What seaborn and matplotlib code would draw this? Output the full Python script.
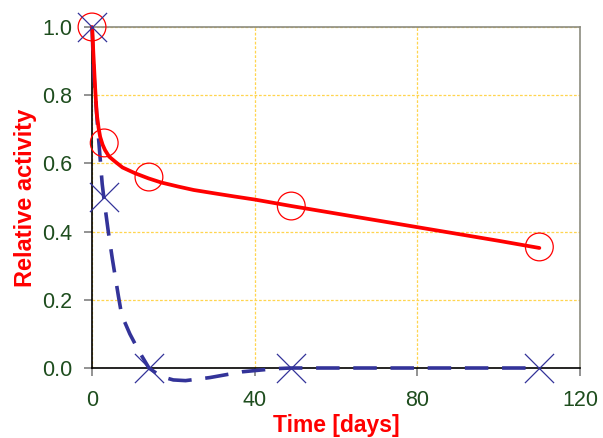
import matplotlib
matplotlib.use("Agg")
import matplotlib.pyplot as plt
import seaborn as sns

# measured activity (markers)
meas_days = [0, 3, 14, 49, 110]
act_red = [1.0, 0.66, 0.56, 0.475, 0.355]
act_blue = [1.0, 0.5, 0.0, 0.0, 0.0]

# fitted curves
fit_red_days = [0, 0.1, 0.33, 0.75, 1.15, 1.6, 2.0, 2.6, 3.2, 4.2, 5.7, 7.5, 10.6,
                13.9, 17, 21.2, 25, 30.2, 35, 40, 49, 60, 70, 80, 90, 100, 110]
fit_red = [1.0, 0.985, 0.923, 0.825, 0.747, 0.705, 0.678, 0.655, 0.639, 0.62, 0.605,
           0.588, 0.571, 0.556, 0.544, 0.532, 0.522, 0.512, 0.503, 0.494, 0.475,
           0.453, 0.433, 0.413, 0.393, 0.373, 0.352]
fit_blue_days = [0, 0.4, 1.3, 1.9, 2.5, 3, 4, 5, 6.5, 7.3, 9.3, 11.5, 14, 17, 20, 23,
                 29, 37, 45, 49, 110]
fit_blue = [1.0, 0.87, 0.72, 0.63, 0.54, 0.49, 0.4, 0.32, 0.21, 0.155, 0.1, 0.05, 0.0,
            -0.025, -0.035, -0.037, -0.028, -0.011, -0.002, 0.0, 0.0]

x_ticks = [0, 40, 80, 120]
y_ticks = [0.0, 0.2, 0.4, 0.6, 0.8, 1.0]

RED = "#FF0000"
NAVY = "#333399"
TICK_GREEN = "#1E4D1E"

sns.set_theme(style="white")
plt.rcParams["font.family"] = ["Liberation Sans", "DejaVu Sans"]

fig, ax = plt.subplots(figsize=(6.03, 4.38), dpi=100)
fig.subplots_adjust(left=0.1526, right=0.9619, top=0.9384, bottom=0.1598)

sns.lineplot(x=fit_blue_days, y=fit_blue, sort=False, estimator=None, color=NAVY,
             linewidth=2.6, linestyle=(0, (6.5, 3.8)), clip_on=False, ax=ax, zorder=3)
sns.lineplot(x=fit_red_days, y=fit_red, sort=False, estimator=None, color=RED,
             linewidth=2.7, clip_on=False, ax=ax, zorder=4)
sns.scatterplot(x=meas_days, y=act_red, marker="o", s=400, facecolors="none",
                edgecolor=RED, linewidth=0.9, clip_on=False, ax=ax, zorder=5)
sns.scatterplot(x=meas_days, y=act_blue, marker="x", s=440, color=NAVY,
                linewidth=0.9, clip_on=False, ax=ax, zorder=5)

ax.set_xlim(0, 120)
ax.set_ylim(0, 1.0)
ax.set_xticks(x_ticks)
ax.set_yticks(y_ticks)
ax.set_xticklabels([str(t) for t in x_ticks])
ax.set_yticklabels([f"{t:.1f}" for t in y_ticks])

# light yellow dotted grid, Excel style
ax.grid(True, color="#FFD54F", linestyle=(0, (2.2, 1.4)), linewidth=0.9, zorder=0)
ax.set_axisbelow(True)

ax.tick_params(axis="both", direction="out", length=6, width=1.2, color="#808080",
               labelsize=15.5, labelcolor=TICK_GREEN, left=True, bottom=True)
ax.tick_params(axis="y", pad=8)
ax.tick_params(axis="x", pad=10)

ax.set_xlabel("Time [days]", fontsize=16.5, fontweight="bold", color=RED, labelpad=2)
ax.set_ylabel("Relative activity", fontsize=17, fontweight="bold", color=RED, labelpad=4)

for side in ["left", "bottom"]:
    ax.spines[side].set_color("black")
    ax.spines[side].set_linewidth(1.2)
for side in ["top", "right"]:
    ax.spines[side].set_color("#8C8C80")
    ax.spines[side].set_linewidth(1.2)

fig.savefig("out.png", dpi=100)
plt.close(fig)
